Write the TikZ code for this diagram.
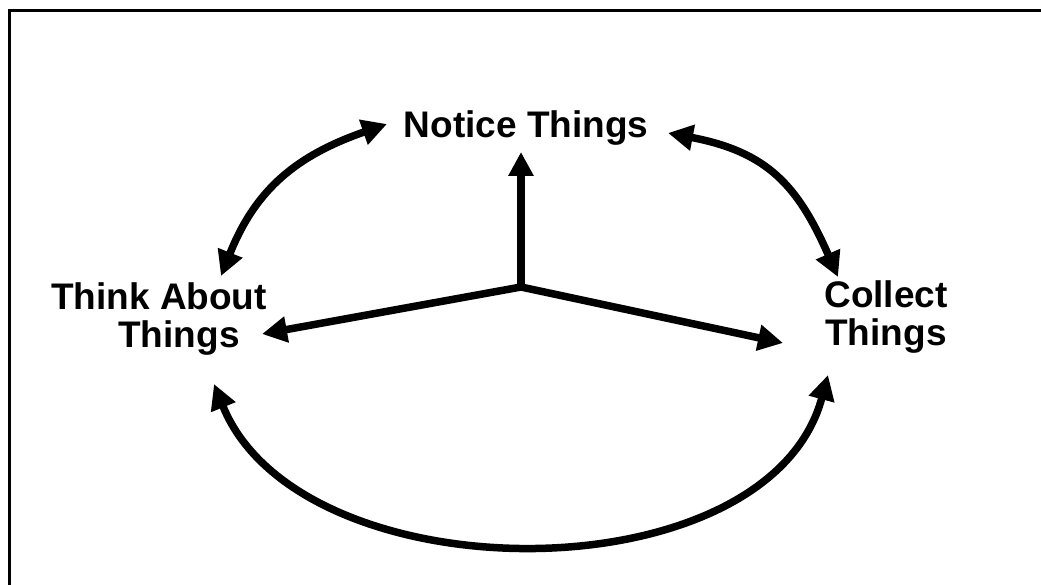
\documentclass[tikz,border=0pt]{standalone}
\usepackage{fontspec}
\setmainfont{Liberation Sans}
\usetikzlibrary{arrows.meta}
\begin{document}
\begin{tikzpicture}[x=1pt,y=-1pt,
  lbl/.style={font=\fontsize{37}{38}\selectfont\bfseries, inner sep=0pt, anchor=base},
  twoway/.style={line width=7.5pt, {Triangle[length=25pt,width=25pt]}-{Triangle[length=25pt,width=25pt]}},
  oneway/.style={line width=7.5pt, -{Triangle[length=24pt,width=24pt]}},
  frame/.style={line width=3pt, line join=miter}]
\useasboundingbox (0,0) rectangle (1041,585);
\draw[frame] (9,586) -- (9,11) -- (1042,11);

\node[lbl] (notice) at (526,138) {Notice Things};
\node[lbl] (think) at (159,309) {\begin{tabular}[t]{@{}c@{}}Think About\\\hspace*{40pt}Things\end{tabular}};
\node[lbl] (collect) at (886,307) {\begin{tabular}[t]{@{}c@{}}Collect\\Things\end{tabular}};

\coordinate (J) at (521,287);
\coordinate (upT) at (521,152);
\coordinate (leftT) at (262,334);
\coordinate (rightT) at (783,343);
\coordinate (tlA) at (387,124);
\coordinate (tlB) at (221,276);
\coordinate (trA) at (668,133);
\coordinate (trB) at (838,277);
\coordinate (bA) at (214,384);
\coordinate (bB) at (828,375);

\draw[twoway] (tlA) .. controls (298,155) and (256,188) .. (tlB);
\draw[twoway] (trA) .. controls (768,152) and (798,186) .. (trB);
\draw[twoway] (bA) .. controls (300,597) and (768,598) .. (bB);
\draw[oneway] (J) -- (upT);
\draw[twoway, line join=miter] (leftT) -- (J) -- (rightT);
\end{tikzpicture}
\end{document}
